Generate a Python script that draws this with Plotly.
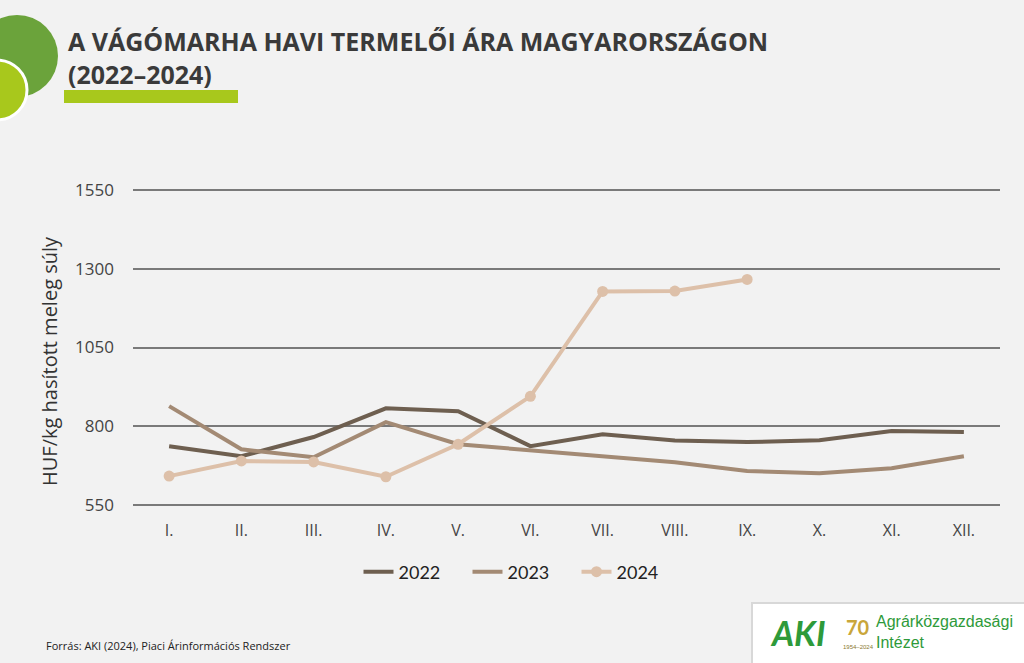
import plotly.graph_objects as go

# Havi termelői ár, HUF/kg hasított meleg súly (leolvasva az ábráról)
HONAPOK = ["I.", "II.", "III.", "IV.", "V.", "VI.", "VII.", "VIII.", "IX.", "X.", "XI.", "XII."]
AR_2022 = [737, 705, 766, 857, 848, 737, 775, 755, 750, 756, 785, 782]
AR_2023 = [864, 727, 702, 813, 743, 724, 708, 686, 658, 651, 667, 705]
AR_2024 = [642, 690, 687, 640, 743, 895, 1228, 1229, 1266]
Y_TICKS = [550, 800, 1050, 1300, 1550]

COLORS = {"2022": "#6E5F50", "2023": "#A38A74", "2024": "#DDC0A9"}
BG = "#F2F2F2"
GREEN = "#2E9A3A"

fig = go.Figure()
for name, vals, mode in [
    ("2022", AR_2022, "lines"),
    ("2023", AR_2023, "lines"),
    ("2024", AR_2024, "lines+markers"),
]:
    fig.add_trace(
        go.Scatter(
            x=HONAPOK[: len(vals)],
            y=vals,
            mode=mode,
            name=name,
            line=dict(color=COLORS[name], width=4),
            marker=dict(size=11, color=COLORS[name]),
        )
    )

# plot area: 188..507 px vertically (319 px), 133..1000 px horizontally
def px(yp):
    return (507 - yp) / 319


def pxx(xp):
    return (xp - 133) / 867


# decoration: circles, underline bar, logo card
shapes = [
    dict(type="circle", xref="paper", yref="paper", x0=pxx(-24), x1=pxx(58), y0=px(97), y1=px(15),
         fillcolor="#6BA33B", line_width=0),
    dict(type="circle", xref="paper", yref="paper", x0=pxx(-33), x1=pxx(27), y0=px(120), y1=px(60),
         fillcolor="#A8C81C", line=dict(color="white", width=3)),
    dict(type="rect", xref="paper", yref="paper", x0=pxx(64), x1=pxx(238), y0=px(103), y1=px(90),
         fillcolor="#A8C81C", line_width=0),
    dict(type="rect", xref="paper", yref="paper", x0=pxx(752), x1=pxx(1030), y0=px(668), y1=px(603),
         fillcolor="white", line=dict(color="#D8D8D8", width=2)),
]

title_font = dict(family="Open Sans", size=25, color="#3A3A3A", weight=800)
annotations = [
    dict(text="<b>A VÁGÓMARHA HAVI TERMELŐI ÁRA MAGYARORSZÁGON</b>",
         xref="paper", yref="paper", x=pxx(66), y=px(41), xanchor="left", yanchor="middle",
         showarrow=False, font=title_font),
    dict(text="<b>(2022–2024)</b>",
         xref="paper", yref="paper", x=pxx(66), y=px(74), xanchor="left", yanchor="middle",
         showarrow=False, font=title_font),
    dict(text="HUF/kg hasított meleg súly", textangle=-90,
         xref="paper", yref="paper", x=pxx(49), y=px(361), xanchor="center", yanchor="middle",
         showarrow=False, font=dict(family="Open Sans", size=20, color="#333")),
    dict(text="Forrás: AKI (2024), Piaci Árinformációs Rendszer",
         xref="paper", yref="paper", x=pxx(44), y=px(645), xanchor="left", yanchor="middle",
         showarrow=False, font=dict(family="Open Sans", size=11, color="#222")),
    dict(text="<b><i>AKI</i></b>", xref="paper", yref="paper", x=pxx(768), y=px(632),
         xanchor="left", yanchor="middle", showarrow=False,
         font=dict(family="Lato", size=34, color=GREEN, weight=900)),
    dict(text="<b>70</b>", xref="paper", yref="paper", x=pxx(858), y=px(627),
         xanchor="center", yanchor="middle", showarrow=False,
         font=dict(family="Lato", size=20, color="#C9A63A")),
    dict(text="1954–2024", xref="paper", yref="paper", x=pxx(858), y=px(647),
         xanchor="center", yanchor="middle", showarrow=False,
         font=dict(family="Liberation Sans", size=6, color="#8A7A30")),
    dict(text="Agrárközgazdasági<br>Intézet", xref="paper", yref="paper", x=pxx(874), y=px(632),
         xanchor="left", yanchor="middle", align="left", showarrow=False,
         font=dict(family="Liberation Sans", size=16, color=GREEN)),
]

fig.update_layout(
    width=1024,
    height=663,
    paper_bgcolor=BG,
    plot_bgcolor=BG,
    margin=dict(l=133, r=24, t=188, b=156),
    shapes=shapes,
    annotations=annotations,
    showlegend=True,
    legend=dict(
        orientation="h", x=pxx(522), y=px(572), xanchor="center", yanchor="middle",
        font=dict(family="Lato", size=18, color="#222"), bgcolor="rgba(0,0,0,0)",
        entrywidth=64, entrywidthmode="pixels", itemwidth=30, tracegroupgap=0,
    ),
    xaxis=dict(
        type="category", range=[-0.5, 11.5], showgrid=False, zeroline=False,
        showline=False, ticks="", ticklabelstandoff=12,
        tickfont=dict(family="Open Sans", size=16, color="#444"),
    ),
    yaxis=dict(
        range=[544, 1556], tickvals=Y_TICKS, showgrid=True, gridcolor="#7A7A7A",
        gridwidth=1.5, zeroline=False, showline=False, ticks="",
        ticklabelstandoff=18,
        tickfont=dict(family="Open Sans", size=17, color="#444"),
    ),
)

fig.write_html(
    "out.html",
    config={"displayModeBar": False},
    post_script="document.body.style.margin='0';",
)
